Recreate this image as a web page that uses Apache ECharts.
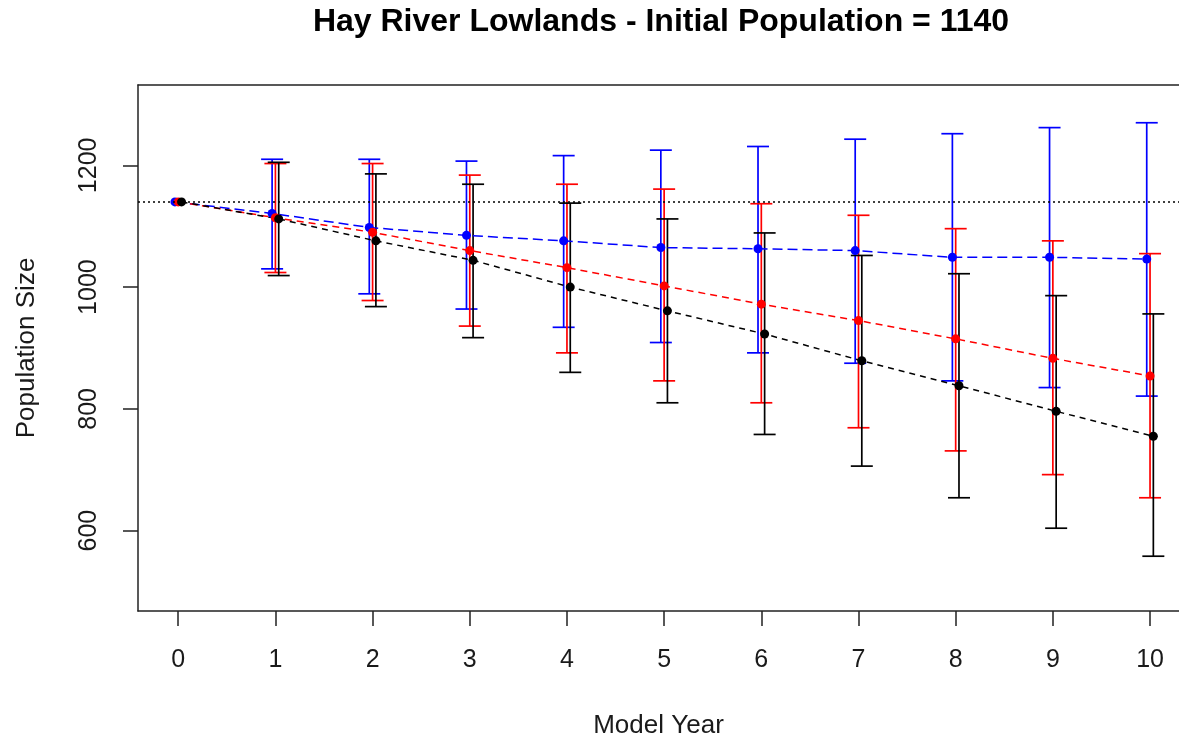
<!DOCTYPE html>
<html>
<head>
<meta charset="utf-8">
<title>Hay River Lowlands</title>
<script src="https://cdn.jsdelivr.net/npm/echarts@6/dist/echarts.min.js"></script>
<style>
  html, body { margin: 0; padding: 0; background: #fff; }
  #chart { width: 1179px; height: 738px; }
</style>
</head>
<body>
<div id="chart"></div>
<script>
// Model years and the projected population for three scenarios
const years = [0, 1, 2, 3, 4, 5, 6, 7, 8, 9, 10];
const initialPopulation = 1140;

const blueMean  = [1140, 1121, 1098, 1085, 1076, 1065, 1063, 1060, 1049, 1049, 1046];
const blueUpper = [1140, 1210, 1210, 1207, 1216, 1225, 1231, 1243, 1252, 1262, 1270];
const blueLower = [1140, 1030, 989, 964, 934, 909, 892, 875, 846, 835, 821];

const redMean  = [1140, 1114, 1090, 1060, 1032, 1002, 972, 945, 915, 883, 854];
const redUpper = [1140, 1203, 1203, 1184, 1169, 1161, 1137, 1118, 1096, 1076, 1055];
const redLower = [1140, 1024, 978, 936, 892, 846, 810, 769, 731, 692, 654];

const blackMean  = [1140, 1112, 1076, 1044, 1000, 961, 923, 879, 838, 796, 755];
const blackUpper = [1140, 1205, 1186, 1169, 1138, 1112, 1089, 1052, 1022, 986, 956];
const blackLower = [1140, 1019, 968, 917, 860, 810, 758, 706, 654, 604, 558];

const yTicks = [600, 800, 1000, 1200];

const FONT = '"Liberation Sans", Arial, sans-serif';
const TEXT = '#1a1a1a';
const AXIS = '#222';

// small horizontal shift so the three scenarios don't sit on top of each other
const scenarios = [
  { color: '#0000ff', shift: -0.034, mean: blueMean,  lo: blueLower,  hi: blueUpper,  dash: [10, 5] },
  { color: '#ff0000', shift: 0,      mean: redMean,   lo: redLower,   hi: redUpper,   dash: [7, 5] },
  { color: '#000000', shift: 0.034,  mean: blackMean, lo: blackLower, hi: blackUpper, dash: [6, 5] }
];

function errorBarRenderer(color) {
  return function (params, api) {
    const x = api.value(0), lo = api.value(1), hi = api.value(2);
    if (lo === hi) return null;
    const top = api.coord([x, hi]);
    const bot = api.coord([x, lo]);
    const hw = 11;
    const style = { stroke: color, lineWidth: 1.7, fill: null };
    return {
      type: 'group',
      children: [
        { type: 'line', shape: { x1: top[0], y1: top[1], x2: bot[0], y2: bot[1] }, style },
        { type: 'line', shape: { x1: top[0] - hw, y1: top[1], x2: top[0] + hw, y2: top[1] }, style },
        { type: 'line', shape: { x1: bot[0] - hw, y1: bot[1], x2: bot[0] + hw, y2: bot[1] }, style }
      ]
    };
  };
}

const series = [];
scenarios.forEach(function (s) {
  series.push({
    type: 'custom',
    renderItem: errorBarRenderer(s.color),
    data: years.map((yr, i) => [yr + s.shift, s.lo[i], s.hi[i]]),
    encode: { x: 0, y: [1, 2] },
    silent: true,
    z: 2
  });
});
scenarios.forEach(function (s, k) {
  const line = {
    type: 'line',
    data: years.map((yr, i) => [yr + s.shift, s.mean[i]]),
    symbol: 'circle',
    symbolSize: 9,
    itemStyle: { color: s.color },
    lineStyle: { color: s.color, width: 1.5, type: s.dash },
    silent: true,
    z: 3
  };
  if (k === 0) {
    // reference line at the starting population
    line.markLine = {
      silent: true,
      symbol: 'none',
      label: { show: false },
      lineStyle: { color: '#000', type: [2, 3], width: 1.5 },
      data: [{ yAxis: initialPopulation }]
    };
  }
  series.push(line);
});

const X_MIN = -0.414, X_MAX = 10.298;

const chart = echarts.init(document.getElementById('chart'), null, { renderer: 'canvas' });
chart.setOption({
  animation: false,
  backgroundColor: '#fff',
  title: {
    text: 'Hay River Lowlands - Initial Population = ' + initialPopulation,
    left: 656,
    textAlign: 'center',
    top: 1,
    textStyle: { fontFamily: FONT, fontSize: 32, fontWeight: 'bold', color: '#000' }
  },
  grid: { left: 138, top: 85, right: 0, bottom: 127, containLabel: false, outerBoundsMode: 'none' },
  xAxis: [{
    type: 'value',
    min: X_MIN, max: X_MAX,
    name: 'Model Year',
    nameLocation: 'middle',
    nameGap: 102,
    nameTextStyle: { fontFamily: FONT, fontSize: 26, color: TEXT },
    axisLine: { show: true, onZero: false, lineStyle: { color: AXIS, width: 1.5 } },
    axisTick: { show: true, length: 15, lineStyle: { color: AXIS, width: 1.5 }, customValues: years },
    axisLabel: { fontFamily: FONT, fontSize: 25, color: TEXT, margin: 37, customValues: years },
    splitLine: { show: false }
  }, {
    // top edge of the plot frame
    type: 'value',
    position: 'top',
    min: X_MIN, max: X_MAX,
    axisLine: { show: true, onZero: false, lineStyle: { color: AXIS, width: 1.5 } },
    axisTick: { show: false },
    axisLabel: { show: false },
    splitLine: { show: false }
  }],
  yAxis: {
    type: 'value',
    min: 468, max: 1332,
    name: 'Population Size',
    nameLocation: 'middle',
    nameGap: 98,
    nameTextStyle: { fontFamily: FONT, fontSize: 26, color: TEXT },
    axisLine: { show: true, onZero: false, lineStyle: { color: AXIS, width: 1.5 } },
    axisTick: { show: true, length: 15, lineStyle: { color: AXIS, width: 1.5 }, customValues: yTicks },
    axisLabel: {
      fontFamily: FONT, fontSize: 25, color: TEXT, rotate: 90, margin: 36,
      customValues: yTicks, formatter: v => String(v)
    },
    splitLine: { show: false }
  },
  series: series
});
</script>
</body>
</html>
